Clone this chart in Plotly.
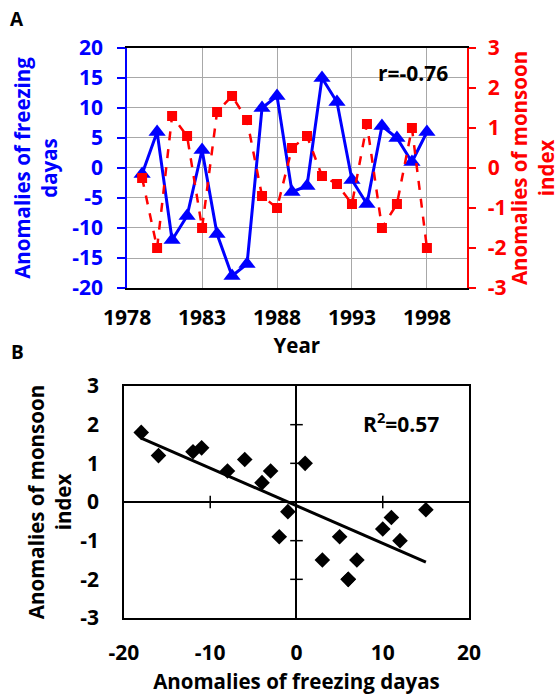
import numpy as np
import plotly.graph_objects as go

years = list(range(1979, 1999))
freezing = [-1, 6, -12, -8, 3, -11, -18, -16, 10, 12, -4, -3, 15, 11, -2, -6, 7, 5, 1, 6]
monsoon = [-0.25, -2.0, 1.3, 0.8, -1.5, 1.4, 1.8, 1.2, -0.7, -1.0, 0.5, 0.8, -0.2, -0.4, -0.9, 1.1, -1.5, -0.9, 1.0, -2.0]

year_ticks = [1978, 1983, 1988, 1993, 1998]
freeze_ticks = [-20, -15, -10, -5, 0, 5, 10, 15, 20]
monsoon_ticks = [-3, -2, -1, 0, 1, 2, 3]
scatter_xticks = [-20, -10, 0, 10, 20]
scatter_yticks = [-3, -2, -1, 0, 1, 2, 3]


def labels(vals):
    return [str(v) for v in vals]


FONT = "Open Sans"
BLUE = "#0000ff"
RED = "#ff0000"
GRID = "#a8a8a8"
TICK_SIZE = 21
TITLE_SIZE = 20.5

slope, intercept = np.polyfit(freezing, monsoon, 1)
fx = np.array([min(freezing), max(freezing)])
fy = slope * fx + intercept

fig = go.Figure()

fig.add_trace(go.Scatter(x=years, y=freezing, mode="lines+markers",
                         line=dict(color=BLUE, width=3),
                         marker=dict(symbol="triangle-up", size=15, color=BLUE),
                         xaxis="x", yaxis="y", showlegend=False))
fig.add_trace(go.Scatter(x=years, y=monsoon, mode="lines+markers",
                         line=dict(color=RED, width=2.5, dash="dash"),
                         marker=dict(symbol="square", size=10, color=RED),
                         xaxis="x", yaxis="y2", showlegend=False))

# bottom scatter
fig.add_trace(go.Scatter(x=fx, y=fy, mode="lines", line=dict(color="black", width=3),
                         xaxis="x3", yaxis="y3", showlegend=False))
fig.add_trace(go.Scatter(x=freezing, y=monsoon, mode="markers",
                         marker=dict(symbol="diamond", size=12, color="black"),
                         xaxis="x3", yaxis="y3", showlegend=False))
# tick marks on the crossing axes
inner_x = [v for v in scatter_xticks if v not in (-20, 0, 20)]
inner_y = [v for v in scatter_yticks if v not in (-3, 0, 3)]
fig.add_trace(go.Scatter(x=inner_x, y=[0] * len(inner_x), mode="markers",
                         marker=dict(symbol="line-ns", size=9, line=dict(width=1.5, color="black")),
                         xaxis="x3", yaxis="y3", showlegend=False, hoverinfo="skip"))
fig.add_trace(go.Scatter(x=[0] * len(inner_y), y=inner_y, mode="markers",
                         marker=dict(symbol="line-ew", size=9, line=dict(width=1.5, color="black")),
                         xaxis="x3", yaxis="y3", showlegend=False, hoverinfo="skip"))

tickfont_black = dict(family=FONT, size=TICK_SIZE, color="black", weight="bold")

fig.update_layout(
    width=560, height=695,
    margin=dict(l=0, r=0, t=0, b=0),
    paper_bgcolor="white", plot_bgcolor="white",
    font=dict(family=FONT),
    xaxis=dict(domain=[0.227, 0.8333], anchor="y", range=[1978, 2000.65], automargin=False,
               tickvals=year_ticks, ticktext=labels(year_ticks),
               showgrid=True, gridcolor=GRID, gridwidth=1,
               showline=True, linecolor="black", linewidth=2, mirror=True,
               ticks="", zeroline=False, tickfont=tickfont_black, ticklabelstandoff=10,
               title=dict(text="Year", font=dict(family=FONT, size=TITLE_SIZE, color="black", weight="bold"),
                          standoff=5)),
    yaxis=dict(domain=[0.5856, 0.931], anchor="x", range=[-20, 20], automargin=False,
               tickvals=freeze_ticks, ticktext=labels(freeze_ticks),
               showgrid=True, gridcolor=GRID, gridwidth=1, zeroline=False,
               showline=True, linecolor=BLUE, linewidth=2, ticks="outside", ticklen=8,
               tickcolor=BLUE, tickwidth=2, ticklabelstandoff=10,
               tickfont=dict(family=FONT, size=TICK_SIZE, color=BLUE, weight="bold"),
               title=dict(text="Anomalies of freezing<br>dayas",
                          font=dict(family=FONT, size=TITLE_SIZE, color=BLUE, weight="bold"), standoff=9)),
    yaxis2=dict(anchor="x", overlaying="y", side="right", range=[-3, 3], automargin=False,
                tickvals=monsoon_ticks, ticktext=labels(monsoon_ticks),
                showgrid=False, zeroline=False, showline=True, linecolor=RED, linewidth=2,
                ticks="outside", ticklen=7, tickcolor=RED, tickwidth=2, ticklabelstandoff=8,
                tickfont=dict(family=FONT, size=TICK_SIZE, color=RED, weight="bold"),
                title=dict(text="Anomalies of monsoon<br>index",
                           font=dict(family=FONT, size=TITLE_SIZE, color=RED, weight="bold"), standoff=1)),
    xaxis3=dict(domain=[0.2214, 0.8375], anchor="y3", range=[-20, 20], automargin=False,
                tickvals=scatter_xticks, ticktext=labels(scatter_xticks),
                showgrid=False, showline=True, linecolor="black", linewidth=1.5, mirror=True,
                zeroline=True, zerolinecolor="black", zerolinewidth=1.5, ticks="",
                tickfont=tickfont_black, ticklabelstandoff=15,
                title=dict(text="Anomalies of freezing dayas",
                           font=dict(family=FONT, size=TITLE_SIZE, color="black", weight="bold"), standoff=10)),
    yaxis3=dict(domain=[0.1108, 0.4446], anchor="x3", range=[-3, 3], automargin=False,
                tickvals=scatter_yticks, ticktext=labels(scatter_yticks),
                showgrid=False, showline=True, linecolor="black", linewidth=1.5, mirror=True,
                zeroline=True, zerolinecolor="black", zerolinewidth=1.5, ticks="",
                tickfont=tickfont_black, ticklabelstandoff=19,
                title=dict(text="Anomalies of monsoon<br>index",
                           font=dict(family=FONT, size=TITLE_SIZE, color="black", weight="bold"), standoff=3)),
    annotations=[
        dict(text="A", x=17 / 560, y=1 - 19 / 695, xref="paper", yref="paper", showarrow=False,
             xanchor="center", yanchor="middle",
             font=dict(family=FONT, size=19, color="black", weight="bold")),
        dict(text="B", x=17 / 560, y=1 - 352 / 695, xref="paper", yref="paper", showarrow=False,
             xanchor="center", yanchor="middle",
             font=dict(family=FONT, size=19, color="black", weight="bold")),
        dict(text="r=-0.76", x=413 / 560, y=1 - 73 / 695, xref="paper", yref="paper", showarrow=False,
             xanchor="center", yanchor="middle",
             font=dict(family=FONT, size=21, color="black", weight="bold")),
        dict(text="R<sup>2</sup>=0.57", x=401 / 560, y=1 - 423 / 695, xref="paper", yref="paper",
             showarrow=False, xanchor="center", yanchor="middle",
             font=dict(family=FONT, size=21, color="black", weight="bold")),
    ],
)

fig.write_html("out.html")
